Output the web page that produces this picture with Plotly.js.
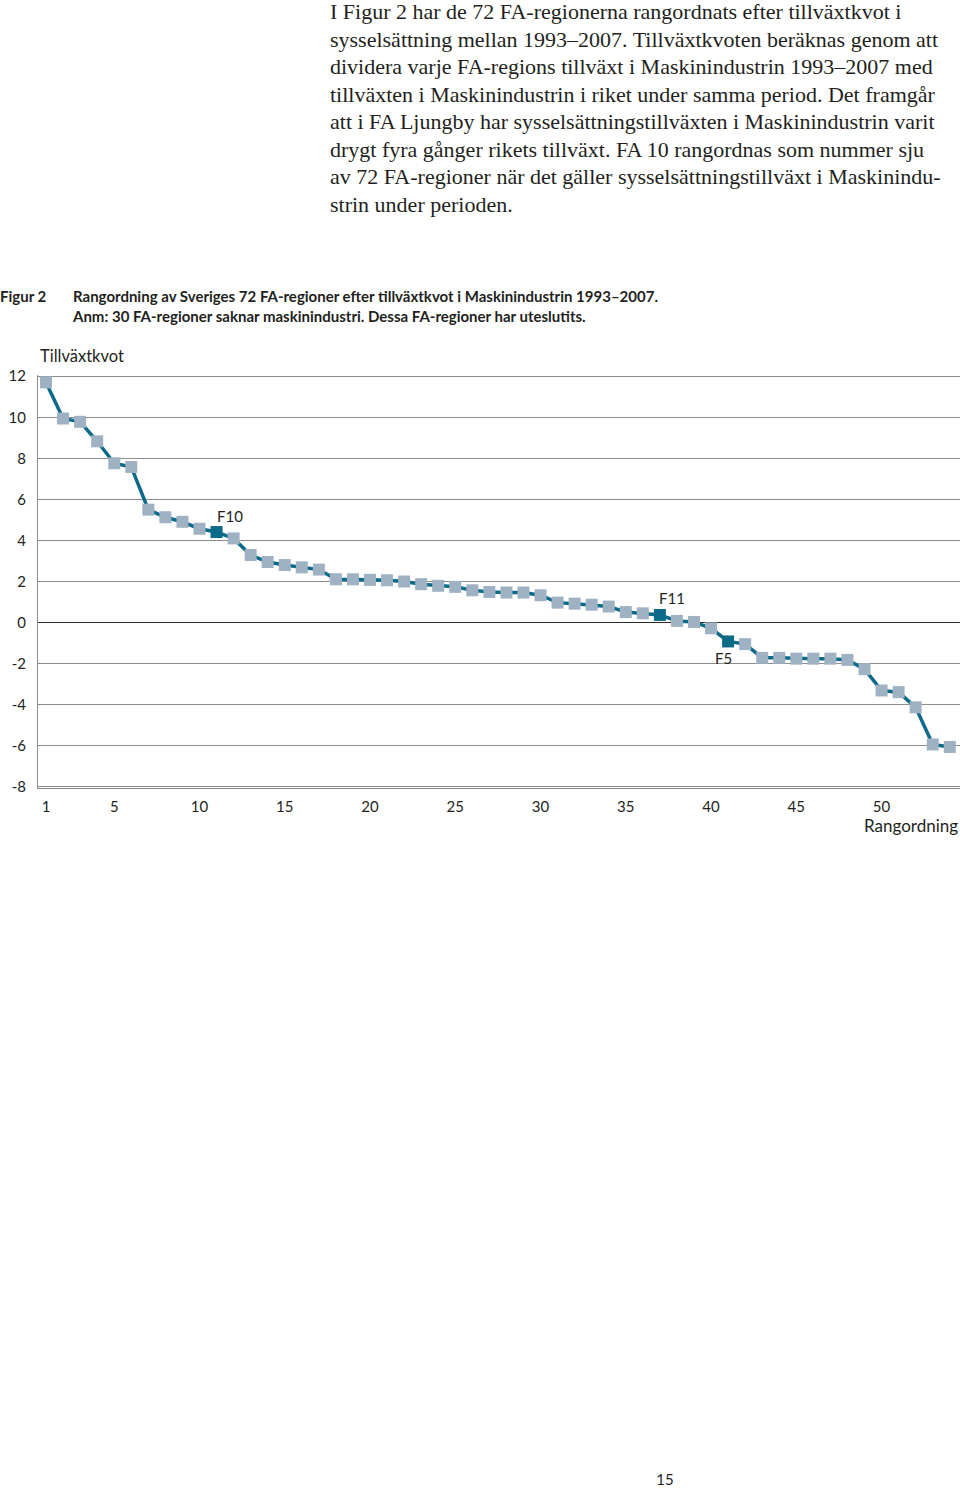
<!DOCTYPE html>
<html>
<head>
<meta charset="utf-8">
<script src="https://cdn.plot.ly/plotly-3.0.1.min.js"></script>
<style>
  html, body { margin: 0; padding: 0; background: #fff; }
  #page { position: relative; width: 960px; height: 1488px; overflow: hidden; }
  #chart { position: absolute; left: 0; top: 0; width: 960px; height: 1488px; }
  .para { position: absolute; left: 330px; top: -2px; font-family: "Liberation Serif", serif; font-size: 22px; line-height: 27.5px; color: #231f20; white-space: nowrap; }
  .cap { position: absolute; top: 286px; font-family: Lato, sans-serif; font-weight: 700; font-size: 15px; line-height: 20px; color: #231f20; white-space: nowrap; }
  .pno { position: absolute; left: 655px; top: 1470px; width: 20px; text-align: center; font-family: Lato, sans-serif; font-size: 15px; color: #231f20; }
</style>
</head>
<body>
<div id="page">
  <div id="chart"></div>
  <div class="para">I Figur 2 har de 72 FA-regionerna rangordnats efter tillväxtkvot i<br>sysselsättning mellan 1993–2007. Tillväxtkvoten beräknas genom att<br>dividera varje FA-regions tillväxt i Maskinindustrin 1993–2007 med<br>tillväxten i Maskinindustrin i riket under samma period. Det framgår<br>att i FA Ljungby har sysselsättningstillväxten i Maskinindustrin varit<br>drygt fyra gånger rikets tillväxt. FA 10 rangordnas som nummer sju<br>av 72 FA-regioner när det gäller sysselsättningstillväxt i Maskinindu-<br>strin under perioden.</div>
  <div class="cap" style="left:0px;">Figur 2</div>
  <div class="cap" style="left:73px;">Rangordning av Sveriges 72 FA-regioner efter tillväxtkvot i Maskinindustrin 1993–2007.<br>Anm: 30 FA-regioner saknar maskinindustri. Dessa FA-regioner har uteslutits.</div>
  <div class="pno">15</div>
</div>
<script>
const ranks = [1,2,3,4,5,6,7,8,9,10,11,12,13,14,15,16,17,18,19,20,21,22,23,24,25,26,27,28,29,30,31,32,33,34,35,36,37,38,39,40,41,42,43,44,45,46,47,48,49,50,51,52,53,54];
const kvot = [11.7, 9.94, 9.78, 8.83, 7.76, 7.58, 5.5, 5.13, 4.91, 4.57, 4.41, 4.1, 3.29, 2.95, 2.8, 2.69, 2.58, 2.11, 2.11, 2.08, 2.06, 2.0, 1.87, 1.79, 1.74, 1.57, 1.49, 1.46, 1.46, 1.33, 0.97, 0.92, 0.87, 0.78, 0.51, 0.45, 0.37, 0.08, 0.03, -0.28, -0.92, -1.05, -1.72, -1.72, -1.76, -1.76, -1.76, -1.82, -2.27, -3.31, -3.39, -4.13, -5.94, -6.06];
const highlightRanks = [11, 37, 41];
const highlightLabels = ['F10', 'F11', 'F5'];
const xTickVals = [1, 5, 10, 15, 20, 25, 30, 35, 40, 45, 50];
const yTickVals = [-8, -6, -4, -2, 0, 2, 4, 6, 8, 10, 12];
const yTickText = ['-8', '-6', '-4', '-2', '0', '2', '4', '6', '8', '10', '12'];

const lineColor = '#0b6a87';
const lightMarker = '#9fb2c3';
const markerColors = ranks.map(r => highlightRanks.includes(r) ? lineColor : lightMarker);

const labelShifts = [[13, 16], [12, 17], [-5, -17]];
const labelAnns = highlightRanks.map((r, i) => ({
  x: r, y: kvot[ranks.indexOf(r)], xref: 'x', yref: 'y',
  text: highlightLabels[i], showarrow: false,
  xshift: labelShifts[i][0], yshift: labelShifts[i][1],
  font: {family: 'Lato, sans-serif', size: 15, color: '#231f20'}
}));

const trace = {
  x: ranks, y: kvot, type: 'scatter', mode: 'lines+markers',
  line: {color: lineColor, width: 3.5},
  marker: {symbol: 'square', size: 12, color: markerColors, line: {width: 0}},
  cliponaxis: false, hoverinfo: 'x+y'
};

const layout = {
  width: 960, height: 1488,
  margin: {l: 38, r: 0, t: 375, b: 700, pad: 0},
  paper_bgcolor: '#fff', plot_bgcolor: '#fff',
  showlegend: false,
  font: {family: 'Lato, sans-serif', size: 15, color: '#231f20'},
  xaxis: {
    range: [0.53, 54.6], tickvals: xTickVals, ticktext: xTickVals.map(String),
    showgrid: false, zeroline: false, showline: true, linecolor: '#8c8c8c', linewidth: 1,
    ticks: '', ticklabelstandoff: 5, tickfont: {size: 15, color: '#231f20'}, fixedrange: true
  },
  yaxis: {
    range: [-8.06, 12.06], tickvals: yTickVals, ticktext: yTickText,
    showgrid: true, gridcolor: '#8c8c8c', gridwidth: 1,
    zeroline: true, zerolinecolor: '#2a2a2a', zerolinewidth: 1.5,
    showline: true, linecolor: '#8c8c8c', linewidth: 1,
    ticks: '', ticklabelstandoff: 8, tickfont: {size: 15, color: '#231f20'}, fixedrange: true
  },
  annotations: labelAnns.concat([
    {xref: 'paper', yref: 'paper', x: 0, y: 1, xanchor: 'left', yanchor: 'middle', yshift: 19,
     text: 'Tillväxtkvot', showarrow: false, font: {family: 'Lato, sans-serif', size: 16.5, color: '#231f20'}},
    {xref: 'paper', yref: 'paper', x: 1, y: 0, xanchor: 'right', yanchor: 'middle', yshift: -37,
     text: 'Rangordning', showarrow: false, font: {family: 'Lato, sans-serif', size: 17, color: '#231f20'}}
  ])
};

Plotly.newPlot('chart', [trace], layout, {displayModeBar: false, staticPlot: true});
</script>
</body>
</html>
